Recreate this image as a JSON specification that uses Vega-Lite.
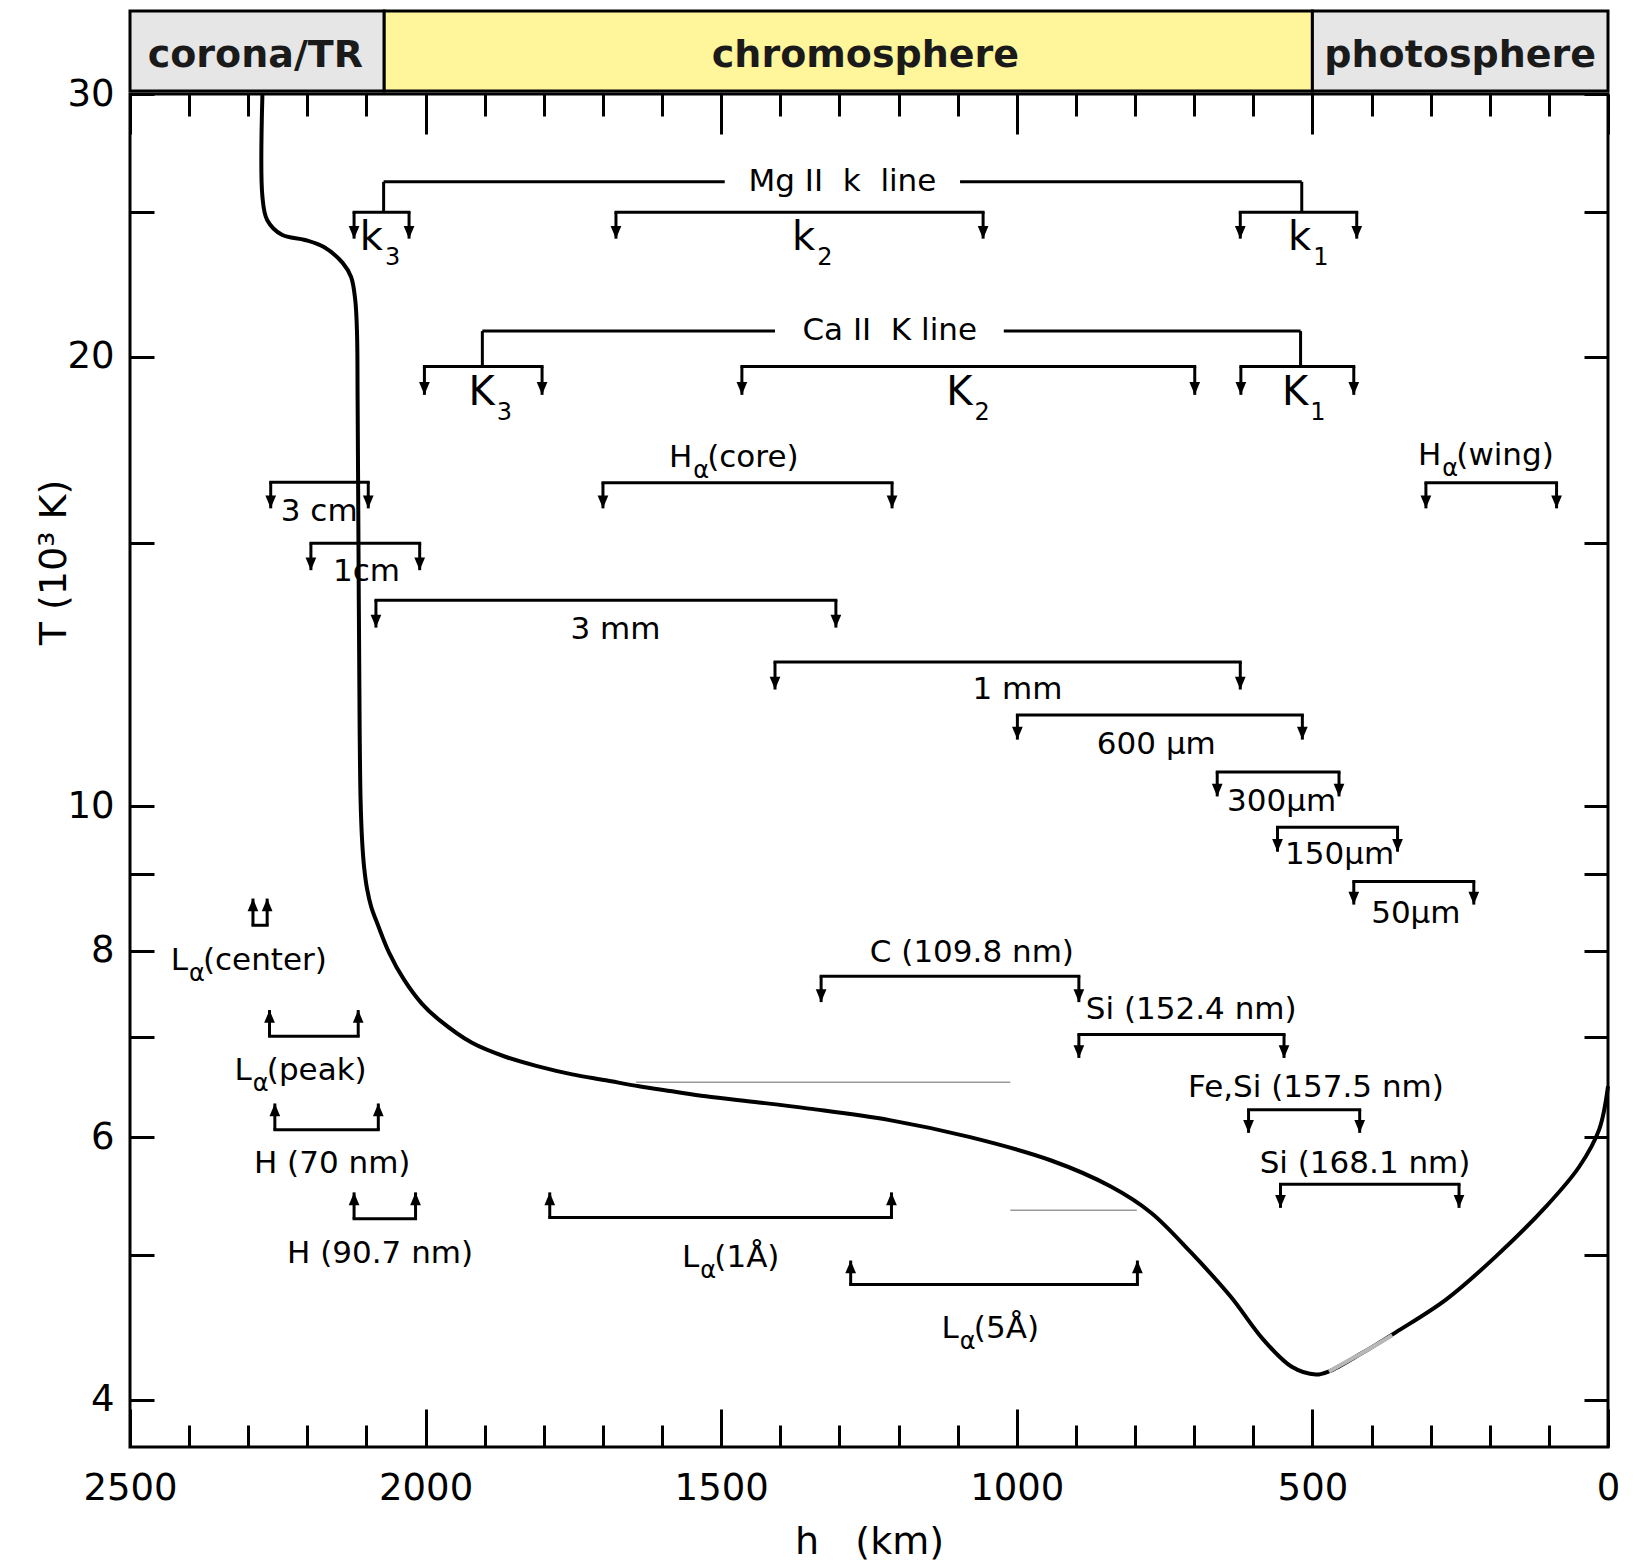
{
  "$schema": "https://vega.github.io/schema/vega-lite/v6.json",
  "background": "white",
  "padding": {"left": 33, "top": 9, "right": 10, "bottom": 10},
  "spacing": 3,
  "bounds": "flush",
  "config": {
    "font": "DejaVu Sans",
    "view": {"stroke": null},
    "axis": {"labelColor": "#000", "titleColor": "#000", "tickColor": "#000", "grid": false, "labelFont": "DejaVu Sans", "titleFont": "DejaVu Sans", "labelFlush": false},
    "text": {"font": "DejaVu Sans", "color": "#000"},
    "rule": {"color": "#000", "strokeWidth": 3}
  },
  "datasets": {
    "zones": [
      {"zone": "corona/TR", "h1": 2500, "h2": 2070, "hl": 2288},
      {"zone": "chromosphere", "h1": 2070, "h2": 500, "hl": 1256},
      {"zone": "photosphere", "h1": 500, "h2": 0, "hl": 250}
    ],
    "profile": [
      {"h": 2276, "T": 30}, {"h": 2276, "T": 25.6}, {"h": 2268, "T": 24.7}, {"h": 2243, "T": 24.14},
      {"h": 2204, "T": 23.95}, {"h": 2172, "T": 23.69}, {"h": 2140, "T": 23.11}, {"h": 2126, "T": 22.62},
      {"h": 2119, "T": 21.83}, {"h": 2116, "T": 20.74}, {"h": 2115, "T": 18.71}, {"h": 2113, "T": 13.74},
      {"h": 2111.5, "T": 11.2}, {"h": 2110, "T": 10.1}, {"h": 2107.5, "T": 9.5}, {"h": 2104, "T": 9.1},
      {"h": 2099, "T": 8.8}, {"h": 2092, "T": 8.56}, {"h": 2080.5, "T": 8.32}, {"h": 2062, "T": 7.98},
      {"h": 2036.5, "T": 7.65}, {"h": 2006, "T": 7.37}, {"h": 1977, "T": 7.19}, {"h": 1921.5, "T": 6.94},
      {"h": 1864, "T": 6.79}, {"h": 1808, "T": 6.69}, {"h": 1752, "T": 6.61}, {"h": 1695, "T": 6.55},
      {"h": 1639, "T": 6.49}, {"h": 1583, "T": 6.44}, {"h": 1526, "T": 6.39}, {"h": 1436, "T": 6.33},
      {"h": 1351.5, "T": 6.27}, {"h": 1215, "T": 6.16}, {"h": 1079, "T": 6.0}, {"h": 943, "T": 5.79},
      {"h": 841, "T": 5.56}, {"h": 773, "T": 5.34}, {"h": 705, "T": 5.02}, {"h": 638, "T": 4.69},
      {"h": 583, "T": 4.39}, {"h": 535, "T": 4.21}, {"h": 494, "T": 4.16}, {"h": 472, "T": 4.18},
      {"h": 416, "T": 4.3}, {"h": 359, "T": 4.44}, {"h": 274, "T": 4.67}, {"h": 190, "T": 4.99},
      {"h": 105, "T": 5.39}, {"h": 49, "T": 5.73}, {"h": 15, "T": 6.07}, {"h": 0, "T": 6.49}
    ],
    "fade": [
      {"h": 472, "T": 4.18}, {"h": 416, "T": 4.3}, {"h": 365, "T": 4.42}
    ],
    "traces": [
      {"h1": 1644, "h2": 1011, "T": 6.53},
      {"h1": 1011, "h2": 797, "T": 5.36}
    ],
    "spans": [
      {"line": "Mg II", "h1": 2071, "h2": 1494, "T": 26.2},
      {"line": "Mg II", "h1": 1096, "h2": 518, "T": 26.2},
      {"line": "Ca II", "h1": 1904, "h2": 1409, "T": 20.81},
      {"line": "Ca II", "h1": 1022, "h2": 520, "T": 20.81}
    ],
    "links": [
      {"line": "Mg II", "h": 2071, "T1": 26.2, "T2": 25.0},
      {"line": "Mg II", "h": 518, "T1": 26.2, "T2": 25.0},
      {"line": "Ca II", "h": 1904, "T1": 20.81, "T2": 19.7},
      {"line": "Ca II", "h": 520, "T1": 20.81, "T2": 19.7}
    ],
    "brackets": [
      {"name": "Mg k3", "h1": 2121, "h2": 2028, "level": 25.0, "tip": 24.0, "dir": "down"},
      {"name": "Mg k2", "h1": 1678, "h2": 1057, "level": 25.0, "tip": 24.0, "dir": "down"},
      {"name": "Mg k1", "h1": 622, "h2": 425, "level": 25.0, "tip": 24.0, "dir": "down"},
      {"name": "Ca K3", "h1": 2002, "h2": 1803, "level": 19.7, "tip": 18.86, "dir": "down"},
      {"name": "Ca K2", "h1": 1465, "h2": 699, "level": 19.7, "tip": 18.86, "dir": "down"},
      {"name": "Ca K1", "h1": 621, "h2": 430, "level": 19.7, "tip": 18.86, "dir": "down"},
      {"name": "H-alpha core", "h1": 1700, "h2": 1211, "level": 16.47, "tip": 15.83, "dir": "down"},
      {"name": "H-alpha wing", "h1": 308, "h2": 87, "level": 16.47, "tip": 15.83, "dir": "down"},
      {"name": "3 cm", "h1": 2262, "h2": 2097, "level": 16.48, "tip": 15.83, "dir": "down"},
      {"name": "1 cm", "h1": 2194, "h2": 2010, "level": 15.0, "tip": 14.39, "dir": "down"},
      {"name": "3 mm", "h1": 2084, "h2": 1306, "level": 13.74, "tip": 13.17, "dir": "down"},
      {"name": "1 mm", "h1": 1409, "h2": 622, "level": 12.49, "tip": 11.97, "dir": "down"},
      {"name": "600 um", "h1": 999, "h2": 517, "level": 11.51, "tip": 11.08, "dir": "down"},
      {"name": "300 um", "h1": 661, "h2": 455, "level": 10.54, "tip": 10.15, "dir": "down"},
      {"name": "150 um", "h1": 559, "h2": 356, "level": 9.68, "tip": 9.32, "dir": "down"},
      {"name": "50 um", "h1": 430, "h2": 227, "level": 8.9, "tip": 8.59, "dir": "down"},
      {"name": "C 109.8", "h1": 1331, "h2": 895, "level": 7.69, "tip": 7.39, "dir": "down"},
      {"name": "Si 152.4", "h1": 895, "h2": 548, "level": 7.03, "tip": 6.78, "dir": "down"},
      {"name": "Fe Si 157.5", "h1": 608, "h2": 420, "level": 6.26, "tip": 6.04, "dir": "down"},
      {"name": "Si 168.1", "h1": 554, "h2": 252, "level": 5.58, "tip": 5.38, "dir": "down"},
      {"name": "L-alpha center", "h1": 2292, "h2": 2268, "level": 8.32, "tip": 8.67, "dir": "up"},
      {"name": "L-alpha peak", "h1": 2264, "h2": 2114, "level": 7.01, "tip": 7.3, "dir": "up"},
      {"name": "H 70", "h1": 2255, "h2": 2080, "level": 6.07, "tip": 6.32, "dir": "up"},
      {"name": "H 90.7", "h1": 2121, "h2": 2017, "level": 5.29, "tip": 5.51, "dir": "up"},
      {"name": "L-alpha 1A", "h1": 1790, "h2": 1212, "level": 5.3, "tip": 5.51, "dir": "up"},
      {"name": "L-alpha 5A", "h1": 1281, "h2": 796, "level": 4.78, "tip": 4.96, "dir": "up"}
    ],
    "notes": [
      {"text": "Mg\u00a0II\u00a0\u00a0k\u00a0\u00a0line", "h": 1295, "T": 26.2},
      {"text": "Ca\u00a0II\u00a0\u00a0K\u00a0line", "h": 1215, "T": 20.81},
      {"text": "3 cm", "h": 2180, "T": 15.75},
      {"text": "1cm", "h": 2100, "T": 14.36},
      {"text": "3 mm", "h": 1679, "T": 13.12},
      {"text": "1 mm", "h": 999, "T": 11.97},
      {"text": "600 μm", "h": 764, "T": 10.99},
      {"text": "300μm", "h": 552, "T": 10.07},
      {"text": "150μm", "h": 454, "T": 9.27},
      {"text": "50μm", "h": 325, "T": 8.47},
      {"text": "C (109.8 nm)", "h": 1076, "T": 7.97},
      {"text": "Si (152.4 nm)", "h": 705, "T": 7.3},
      {"text": "Fe,Si (157.5 nm)", "h": 494, "T": 6.47},
      {"text": "Si (168.1 nm)", "h": 411, "T": 5.76},
      {"text": "H (70 nm)", "h": 2158, "T": 5.76},
      {"text": "H (90.7 nm)", "h": 2077, "T": 5.01}
    ],
    "klabels": [
      {"main": "k", "sub": "3", "h": 2072, "T": 23.58},
      {"main": "k", "sub": "2", "h": 1341, "T": 23.58},
      {"main": "k", "sub": "1", "h": 502, "T": 23.58},
      {"main": "K", "sub": "3", "h": 1883, "T": 18.57},
      {"main": "K", "sub": "2", "h": 1075, "T": 18.57},
      {"main": "K", "sub": "1", "h": 507, "T": 18.57}
    ],
    "alabels": [
      {"main": "H", "sub": "α", "rest": "\u00a0(core)", "h": 1549, "T": 16.88},
      {"main": "H", "sub": "α", "rest": "\u00a0(wing)", "h": 282, "T": 16.93},
      {"main": "L", "sub": "α", "rest": "(center)", "h": 2402, "T": 7.76},
      {"main": "L", "sub": "α", "rest": "(peak)", "h": 2294, "T": 6.55},
      {"main": "L", "sub": "α", "rest": "(1Å)", "h": 1537, "T": 4.91},
      {"main": "L", "sub": "α", "rest": "(5Å)", "h": 1098, "T": 4.4}
    ]
  },
  "vconcat": [
    {
      "width": 1478,
      "height": 80,
      "data": {"name": "zones"},
      "layer": [
        {
          "mark": {"type": "rect", "stroke": "#000", "strokeWidth": 3},
          "encoding": {
            "x": {"field": "h1", "type": "quantitative", "scale": {"domain": [0, 2500], "reverse": true, "nice": false, "zero": false}, "axis": null},
            "x2": {"field": "h2"},
            "color": {"field": "zone", "type": "nominal", "scale": {"domain": ["corona/TR", "chromosphere", "photosphere"], "range": ["#e6e6e6", "#fff59a", "#e6e6e6"]}, "legend": null}
          }
        },
        {
          "mark": {"type": "text", "fontSize": 38, "fontWeight": "bold", "baseline": "middle", "dy": 5, "color": "#1a1a1a"},
          "encoding": {
            "x": {"field": "hl", "type": "quantitative", "axis": null},
            "text": {"field": "zone"}
          }
        }
      ]
    },
    {
      "width": 1478,
      "height": 1353,
      "view": {"stroke": "#000", "strokeWidth": 3},
      "resolve": {"axis": {"x": "independent", "y": "independent"}},
      "layer": [
        {
          "data": {"name": "profile"},
          "mark": {"type": "line", "color": "#000", "strokeWidth": 4, "interpolate": "catmull-rom"},
          "encoding": {
            "x": {
              "field": "h", "type": "quantitative",
              "scale": {"domain": [0, 2500], "reverse": true, "nice": false, "zero": false},
              "axis": {"orient": "bottom", "values": [0,100,200,300,400,500,600,700,800,900,1000,1100,1200,1300,1400,1500,1600,1700,1800,1900,2000,2100,2200,2300,2400,2500], "labels": false, "domain": false, "tickSize": {"condition": {"test": "datum.value % 500 === 0", "value": -38}, "value": -22}, "tickWidth": 3, "title": null}
            },
            "y": {
              "field": "T", "type": "quantitative",
              "scale": {"type": "log", "domain": [3.72, 30], "nice": false, "zero": false},
              "axis": {"orient": "left", "values": [4,5,6,7,8,9,10,15,20,25,30], "labels": false, "domain": false, "tickSize": -24, "tickWidth": 3, "title": null}
            },
            "order": {"value": null}
          }
        },
        {
          "data": {"name": "fade"},
          "mark": {"type": "line", "color": "#b8b8b8", "strokeWidth": 4, "interpolate": "catmull-rom"},
          "encoding": {
            "x": {
              "field": "h", "type": "quantitative",
              "axis": {"orient": "bottom", "values": [0,500,1000,1500,2000,2500], "format": "d", "ticks": false, "domain": false, "labelPadding": 23, "labelFontSize": 37, "title": "h\u00a0\u00a0\u00a0(km)", "titleFontSize": 38, "titleFontWeight": "normal", "titlePadding": 17}
            },
            "y": {
              "field": "T", "type": "quantitative",
              "axis": {"orient": "left", "values": [4,6,8,10,20,30], "format": "d", "ticks": false, "domain": false, "labelPadding": 16, "labelFontSize": 37, "title": "T (10³ K)", "titleFontSize": 38, "titleFontWeight": "normal", "titleX": -76, "titleY": 468, "titleAngle": 270, "titleAlign": "center", "titleBaseline": "middle"}
            },
            "order": {"value": null}
          }
        },
        {
          "data": {"name": "traces"},
          "mark": {"type": "rule", "color": "#9a9a9a", "strokeWidth": 1.5},
          "encoding": {
            "x": {
              "field": "h1", "type": "quantitative",
              "axis": {"orient": "top", "values": [0,100,200,300,400,500,600,700,800,900,1000,1100,1200,1300,1400,1500,1600,1700,1800,1900,2000,2100,2200,2300,2400,2500], "labels": false, "domain": false, "tickSize": {"condition": {"test": "datum.value % 500 === 0", "value": -40}, "value": -22}, "tickWidth": 3, "title": null}
            },
            "x2": {"field": "h2"},
            "y": {
              "field": "T", "type": "quantitative",
              "axis": {"orient": "right", "values": [4,5,6,7,8,9,10,15,20,25,30], "labels": false, "domain": false, "tickSize": -24, "tickWidth": 3, "title": null}
            }
          }
        },
        {
          "data": {"name": "spans"},
          "mark": {"type": "rule", "strokeWidth": 3},
          "encoding": {
            "x": {"field": "h1", "type": "quantitative", "axis": null},
            "x2": {"field": "h2"},
            "y": {"field": "T", "type": "quantitative", "axis": null}
          }
        },
        {
          "data": {"name": "links"},
          "mark": {"type": "rule", "strokeWidth": 3},
          "encoding": {
            "x": {"field": "h", "type": "quantitative", "axis": null},
            "y": {"field": "T1", "type": "quantitative", "axis": null},
            "y2": {"field": "T2"}
          }
        },
        {
          "data": {"name": "brackets"},
          "mark": {"type": "rule", "strokeWidth": 3, "strokeCap": "square"},
          "encoding": {
            "x": {"field": "h1", "type": "quantitative", "axis": null},
            "x2": {"field": "h2"},
            "y": {"field": "level", "type": "quantitative", "axis": null}
          }
        },
        {
          "data": {"name": "brackets"},
          "transform": [{"fold": ["h1", "h2"], "as": ["end", "hx"]}],
          "mark": {"type": "rule", "strokeWidth": 3},
          "encoding": {
            "x": {"field": "hx", "type": "quantitative", "axis": null},
            "y": {"field": "level", "type": "quantitative", "axis": null},
            "y2": {"field": "tip"}
          }
        },
        {
          "data": {"name": "brackets"},
          "transform": [{"fold": ["h1", "h2"], "as": ["end", "hx"]}],
          "mark": {"type": "point", "filled": true, "size": 650, "opacity": 1, "color": "#000", "strokeWidth": 0},
          "encoding": {
            "x": {"field": "hx", "type": "quantitative", "axis": null},
            "y": {"field": "tip", "type": "quantitative", "axis": null},
            "shape": {"field": "dir", "type": "nominal", "scale": {"domain": ["down", "up"], "range": ["M-0.42,-1L0.42,-1L0,0Z", "M-0.42,1L0.42,1L0,0Z"]}, "legend": null}
          }
        },
        {
          "data": {"name": "notes"},
          "mark": {"type": "text", "fontSize": 31, "baseline": "middle", "align": "center"},
          "encoding": {
            "x": {"field": "h", "type": "quantitative", "axis": null},
            "y": {"field": "T", "type": "quantitative", "axis": null},
            "text": {"field": "text"}
          }
        },
        {
          "data": {"name": "klabels"},
          "mark": {"type": "text", "fontSize": 40, "baseline": "alphabetic", "align": "right"},
          "encoding": {
            "x": {"field": "h", "type": "quantitative", "axis": null},
            "y": {"field": "T", "type": "quantitative", "axis": null},
            "text": {"field": "main"}
          }
        },
        {
          "data": {"name": "klabels"},
          "mark": {"type": "text", "fontSize": 24, "baseline": "alphabetic", "align": "left", "dx": 2, "dy": 15},
          "encoding": {
            "x": {"field": "h", "type": "quantitative", "axis": null},
            "y": {"field": "T", "type": "quantitative", "axis": null},
            "text": {"field": "sub"}
          }
        },
        {
          "data": {"name": "alabels"},
          "mark": {"type": "text", "fontSize": 31, "baseline": "alphabetic", "align": "right"},
          "encoding": {
            "x": {"field": "h", "type": "quantitative", "axis": null},
            "y": {"field": "T", "type": "quantitative", "axis": null},
            "text": {"field": "main"}
          }
        },
        {
          "data": {"name": "alabels"},
          "mark": {"type": "text", "fontSize": 24, "baseline": "alphabetic", "align": "left", "dx": 1, "dy": 11},
          "encoding": {
            "x": {"field": "h", "type": "quantitative", "axis": null},
            "y": {"field": "T", "type": "quantitative", "axis": null},
            "text": {"field": "sub"}
          }
        },
        {
          "data": {"name": "alabels"},
          "mark": {"type": "text", "fontSize": 31, "baseline": "alphabetic", "align": "left", "dx": 15},
          "encoding": {
            "x": {"field": "h", "type": "quantitative", "axis": null},
            "y": {"field": "T", "type": "quantitative", "axis": null},
            "text": {"field": "rest"}
          }
        }
      ]
    }
  ]
}
